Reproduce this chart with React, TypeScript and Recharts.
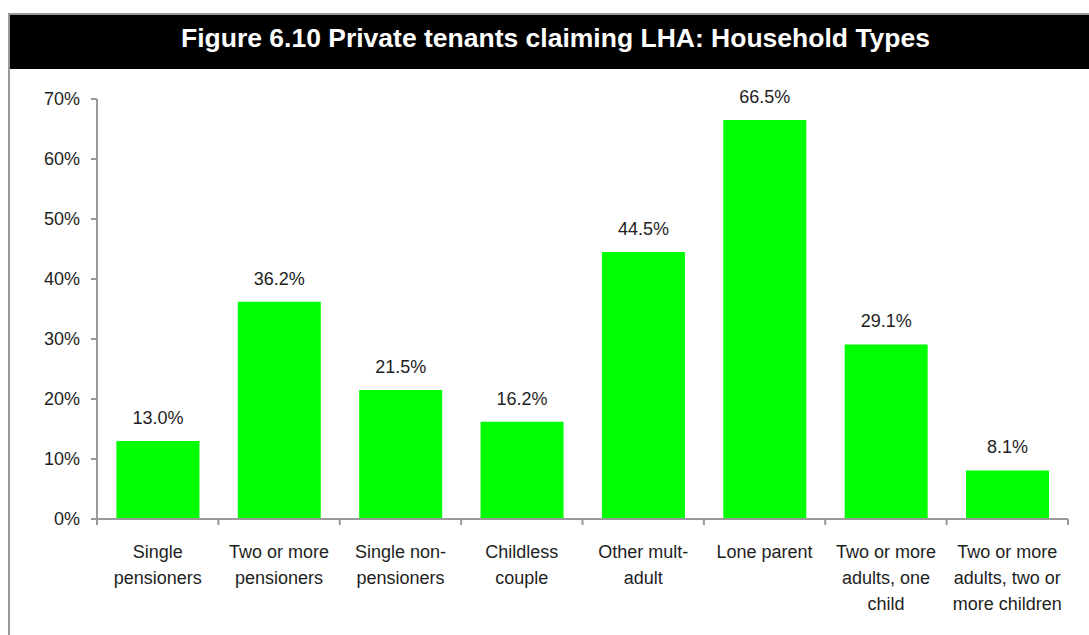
import { BarChart, Bar, XAxis, YAxis, LabelList } from 'recharts'

const categories = [
  'Single pensioners',
  'Two or more pensioners',
  'Single non-pensioners',
  'Childless couple',
  'Other mult-adult',
  'Lone parent',
  'Two or more adults, one child',
  'Two or more adults, two or more children'
]

// how each category label wraps under the axis
const categoryLines = [
  ['Single', 'pensioners'],
  ['Two or more', 'pensioners'],
  ['Single non-', 'pensioners'],
  ['Childless', 'couple'],
  ['Other mult-', 'adult'],
  ['Lone parent'],
  ['Two or more', 'adults, one', 'child'],
  ['Two or more', 'adults, two or', 'more children']
]

const shares = [13.0, 36.2, 21.5, 16.2, 44.5, 66.5, 29.1, 8.1]

const yTicks = [0, 10, 20, 30, 40, 50, 60, 70]

const title = 'Figure 6.10 Private tenants claiming LHA: Household Types'

const data = categories.map((name, i) => ({ name, value: shares[i] }))

const FONT = '"Liberation Sans", Arial, sans-serif'
const AXIS = '#999999'
const TEXT = '#1e1e1e'

const CHART_W = 1089
const CHART_H = 635
const MARGIN = { top: 99, right: 21, bottom: 0, left: 0 }
const Y_AXIS_W = 97
const X_AXIS_H = 116
const BAND = (CHART_W - MARGIN.right - Y_AXIS_W) / categories.length

function CategoryTick({ x, y, payload, index }: any) {
  const i = payload?.index ?? index
  const lines = categoryLines[i] ?? [payload.value]
  const left = x - BAND / 2
  const right = x + BAND / 2
  return (
    <g>
      {/* tick marks at the category boundaries */}
      <line x1={left} y1={y} x2={left} y2={y + 6} stroke={AXIS} strokeWidth={2} />
      {i === categories.length - 1 && (
        <line x1={right} y1={y} x2={right} y2={y + 6} stroke={AXIS} strokeWidth={2} />
      )}
      {lines.map((line: string, k: number) => (
        <text
          key={k}
          x={x}
          y={y + 39 + k * 26}
          textAnchor="middle"
          fill={TEXT}
          fontSize={18}
          fontFamily={FONT}
        >
          {line}
        </text>
      ))}
    </g>
  )
}

export default function App() {
  return (
    <div style={{ position: 'absolute', left: 0, top: 0, width: CHART_W, height: CHART_H, background: '#fff', overflow: 'hidden' }}>
      {/* frame */}
      <div style={{ position: 'absolute', left: 8, top: 13, width: 1081, height: 640, borderLeft: `2px solid ${AXIS}`, borderTop: `2px solid ${AXIS}` }} />
      {/* title bar */}
      <div
        style={{
          position: 'absolute', left: 10, top: 15, width: 1079, height: 54, background: '#000',
          color: '#fff', fontFamily: FONT, fontWeight: 'bold', boxSizing: 'border-box', paddingLeft: 12,
          fontSize: 26.5, textAlign: 'center', lineHeight: '46px', whiteSpace: 'nowrap'
        }}
      >
        {title}
      </div>

      <div style={{ position: 'absolute', left: 0, top: 0 }}>
        <BarChart
          width={CHART_W}
          height={CHART_H}
          data={data}
          margin={MARGIN}
          barCategoryGap="16%"
        >
          <YAxis
            width={Y_AXIS_W}
            domain={[0, 70]}
            ticks={yTicks}
            tickFormatter={(v) => `${v}%`}
            axisLine={{ stroke: AXIS, strokeWidth: 2 }}
            tickLine={{ stroke: AXIS, strokeWidth: 2 }}
            tickSize={6}
            tickMargin={11}
            tick={{ fill: TEXT, fontSize: 18, fontFamily: FONT }}
          />
          <XAxis
            dataKey="name"
            height={X_AXIS_H}
            axisLine={{ stroke: AXIS, strokeWidth: 2 }}
            tickLine={false}
            tickSize={0}
            tickMargin={0}
            interval={0}
            tick={<CategoryTick />}
          />
          <Bar dataKey="value" fill="#00ff00" isAnimationActive={false}>
            <LabelList
              dataKey="value"
              position="top"
              offset={17}
              formatter={(v: any) => `${Number(v).toFixed(1)}%`}
              fill={TEXT}
              fontSize={18}
              fontFamily={FONT}
            />
          </Bar>
        </BarChart>
      </div>
    </div>
  )
}
